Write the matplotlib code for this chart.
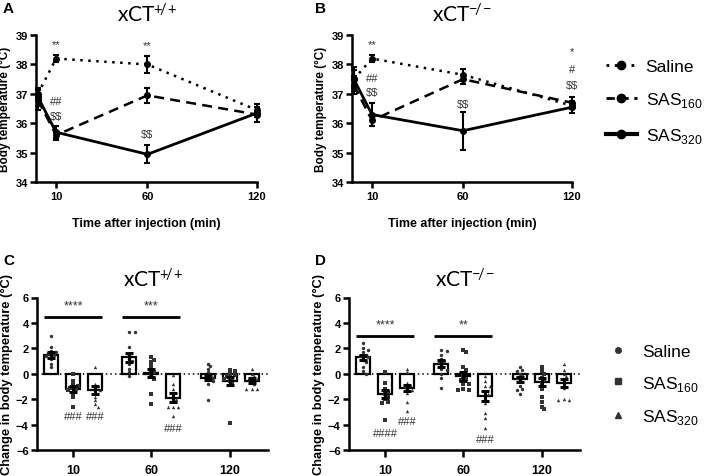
import numpy as np
import matplotlib
matplotlib.use('Agg')
import matplotlib.pyplot as plt
from matplotlib.lines import Line2D

plt.rcParams['font.family'] = ['Liberation Sans', 'DejaVu Sans']
plt.rcParams['mathtext.fontset'] = 'custom'
plt.rcParams['mathtext.rm'] = 'Liberation Sans'

# ---------------- data: time course (panels A, B) ----------------
times = [0, 10, 60, 120]
time_ticks = [10, 60, 120]
temp_ticks = [34, 35, 36, 37, 38, 39]

a_saline = [37.0, 38.2, 38.0, 36.45]
a_saline_sem = [0.2, 0.12, 0.3, 0.1]
a_sas160 = [36.8, 35.6, 36.95, 36.3]
a_sas160_sem = [0.35, 0.15, 0.25, 0.1]
a_sas320 = [36.9, 35.7, 34.95, 36.35]
a_sas320_sem = [0.3, 0.2, 0.3, 0.3]

b_saline = [37.5, 38.2, 37.65, 36.6]
b_saline_sem = [0.3, 0.12, 0.2, 0.1]
b_sas160 = [37.3, 36.1, 37.5, 36.7]
b_sas160_sem = [0.3, 0.2, 0.15, 0.2]
b_sas320 = [37.5, 36.3, 35.75, 36.55]
b_sas320_sem = [0.4, 0.4, 0.65, 0.2]

annot_a = [(10, 38.7, '**'), (60, 38.65, '**'), (10, 36.75, '##'),
           (10, 36.25, r'\$\$'), (60, 35.65, r'\$\$')]
annot_b = [(10, 38.7, '**'), (10, 37.55, '##'), (10, 37.05, r'\$\$'),
           (60, 36.65, r'\$\$'), (120, 38.45, '*'), (120, 37.85, '#'),
           (120, 37.3, r'\$\$')]

# ---------------- data: change in temperature (panels C, D) ----------------
group_labels = ['10', '60', '120']
change_ticks = [-6, -4, -2, 0, 2, 4, 6]
treatments = ['Saline', 'SAS160', 'SAS320']

c_means = [[1.5, -1.2, -1.3], [1.3, 0.05, -1.9], [-0.3, -0.55, -0.55]]
c_sems = [[0.25, 0.25, 0.3], [0.35, 0.3, 0.35], [0.2, 0.3, 0.2]]
c_points = [
    [[3.0, 2.1, 1.8, 1.7, 1.6, 1.5, 1.4, 1.2, 0.8, 0.5],
     [0.0, -0.6, -0.9, -1.0, -1.1, -1.2, -1.3, -1.5, -1.8, -2.6],
     [0.5, -0.8, -1.0, -1.2, -1.3, -1.5, -1.8, -2.1, -2.4, -2.6]],
    [[3.3, 3.3, 2.1, 1.5, 1.2, 1.0, 0.8, 0.4, 0.1, -0.2],
     [1.3, 1.1, 0.9, 0.6, 0.3, 0.1, -0.2, -0.4, -1.6, -2.4],
     [-0.1, -0.8, -1.2, -1.5, -1.8, -2.0, -2.6, -2.6, -2.6, -3.3]],
    [[0.8, 0.6, 0.4, 0.1, -0.2, -0.3, -0.5, -0.6, -0.8, -2.1],
     [0.3, 0.2, 0.0, -0.1, -0.2, -0.3, -0.4, -0.6, -0.8, -3.9],
     [0.4, 0.0, -0.2, -0.3, -0.4, -0.6, -0.8, -1.2, -1.2, -1.2]],
]
c_sig = [(0, 4.5, '****'), (1, 4.5, '***')]
c_hash = [(0, 1, -3.3, '###'), (0, 2, -3.3, '###'), (1, 2, -4.3, '###')]

d_means = [[1.3, -1.6, -1.1], [0.8, -0.2, -1.75], [-0.45, -0.65, -0.75]]
d_sems = [[0.2, 0.3, 0.25], [0.25, 0.35, 0.4], [0.2, 0.3, 0.3]]
d_points = [
    [[2.4, 2.0, 1.9, 1.7, 1.5, 1.4, 1.3, 1.1, 0.9, 0.5, 0.2, 0.0],
     [0.1, -0.7, -1.2, -1.4, -1.6, -1.8, -2.0, -2.2, -2.3, -3.6],
     [0.4, 0.1, -0.7, -0.9, -1.0, -1.2, -1.3, -1.5, -2.2, -2.9]],
    [[1.9, 1.8, 1.5, 1.2, 1.0, 0.9, 0.7, 0.3, 0.0, -0.3, 0.4, -1.1],
     [1.9, 1.7, 0.5, 0.3, -0.2, -0.4, -0.5, -0.8, -0.8, -1.2, -1.3, -1.3],
     [-0.2, -0.6, -1.0, -1.0, -1.4, -1.6, -2.0, -2.3, -3.1, -3.5, -4.3]],
    [[0.5, 0.3, 0.2, 0.0, -0.2, -0.3, -0.5, -1.0, -1.2, -1.3, -1.6],
     [0.5, 0.2, 0.0, -0.3, -0.5, -0.8, -1.2, -1.8, -2.2, -2.6, -2.8],
     [0.8, 0.3, 0.0, -0.2, -0.5, -0.8, -1.1, -2.0, -2.1, -2.1]],
]
d_sig = [(0, 3.0, '****'), (1, 3.0, '**')]
d_hash = [(0, 1, -4.7, '####'), (0, 2, -3.7, '###'), (1, 2, -5.1, '###')]

# ---------------- styling ----------------
W, H = 708, 477
fig = plt.figure(figsize=(W / 100, H / 100), dpi=100)

def fbox(x0, y0, x1, y1):
    return [x0 / W, 1 - y1 / H, (x1 - x0) / W, (y1 - y0) / H]

SPINE = 1.8
TICKFS = 8
title_font = dict(family=['Lato', 'DejaVu Sans'], fontsize=15)

def make_title(sup):
    return r'$\mathregular{xCT^{' + sup + '}}$'

def style_axes(ax):
    for s in ['top', 'right']:
        ax.spines[s].set_visible(False)
    for s in ['left', 'bottom']:
        ax.spines[s].set_linewidth(SPINE)
    ax.tick_params(width=SPINE, length=4, labelsize=TICKFS, pad=2)
    for lab in ax.get_xticklabels() + ax.get_yticklabels():
        lab.set_fontweight('bold')

line_styles = [dict(ls=(0, (1, 2.2)), lw=1.8),
               dict(ls=(0, (4, 2.5)), lw=1.8),
               dict(ls='-', lw=2.0)]

def time_panel(ax, series, sems, annots, title, letter, lx):
    for vals, sem, st in zip(series, sems, line_styles):
        ax.plot(times, vals, color='black', marker='o', ms=4, clip_on=False, **st)
        ax.errorbar(times, vals, yerr=sem, fmt='none', ecolor='black',
                    elinewidth=1.5, capsize=2.5, capthick=1.5, clip_on=False)
    ax.set_xlim(-1, 120)
    ax.set_ylim(34, 39)
    ax.set_xticks(time_ticks)
    ax.set_yticks(temp_ticks)
    style_axes(ax)
    ax.set_xlabel('Time after injection (min)', fontsize=9, fontweight='bold', labelpad=12)
    ax.set_ylabel('Body temperature (°C)', fontsize=8.5, fontweight='bold', labelpad=3)
    for x, y, t in annots:
        ax.text(x, y, t, ha='center', va='center', fontsize=8, color='#333333')
    ax.set_title(title, pad=10, **title_font)
    fig.text(lx / W, 1 - 9 / H, letter, fontsize=11, fontweight='bold', va='center')

axA = fig.add_axes(fbox(36, 36, 257, 183.3))
time_panel(axA, [a_saline, a_sas160, a_sas320], [a_saline_sem, a_sas160_sem, a_sas320_sem],
           annot_a, make_title(r'+\!/\!+'), 'A', 3)
axB = fig.add_axes(fbox(352, 36, 572, 183.3))
time_panel(axB, [b_saline, b_sas160, b_sas320], [b_saline_sem, b_sas160_sem, b_sas320_sem],
           annot_b, make_title(r'-\!/\!-'), 'B', 315)

# top legend
handles = [Line2D([], [], color='black', marker='o', ms=6, ls=(0, (1, 2)), lw=2),
           Line2D([], [], color='black', marker='o', ms=6, ls=(0, (3, 2)), lw=2),
           Line2D([], [], color='black', marker='o', ms=6, ls='-', lw=3)]
labels = ['Saline', r'SAS$_{160}$', r'SAS$_{320}$']
fig.legend(handles, labels, loc='upper left', bbox_to_anchor=(590 / W, 1 - 44 / H),
           frameon=False, fontsize=12.5, handlelength=1.8, handletextpad=0.5,
           labelspacing=0.95)

# ---------------- bar panels ----------------
offsets = [-0.28, 0.0, 0.28]
bar_w = 0.18
markers = ['o', 's', '^']
PX_X, PX_Y = 78.0, 152.0 / 12.0

def swarm(vals, mindist=3.4, step=2.6):
    order = np.argsort(vals)[::-1]
    placed = []
    offs = np.zeros(len(vals))
    for i in order:
        y = vals[i] * PX_Y
        k = 0
        while True:
            cand = 0 if k == 0 else ((k + 1) // 2) * step * (1 if k % 2 else -1)
            ok = all((cand - px) ** 2 + (y - py) ** 2 >= mindist ** 2 for px, py in placed)
            if ok:
                break
            k += 1
        placed.append((cand, y))
        offs[i] = cand / PX_X
    return offs

def bar_panel(ax, means, sems, points, sigs, hashes, title, letter, lx):
    ax.axhline(0, color='black', ls=(0, (1, 2)), lw=1.1, zorder=1)
    for g in range(3):
        for t in range(3):
            x = g + offsets[t]
            ax.bar(x, means[g][t], width=bar_w, color='white', edgecolor='black',
                   linewidth=1.6, zorder=2)
            pts = np.array(points[g][t])
            ax.scatter(x + swarm(pts), pts, marker=markers[t], s=6, color='#333333',
                       linewidths=0, zorder=3)
            ax.errorbar(x, means[g][t], yerr=sems[g][t], fmt='none', ecolor='black',
                        elinewidth=2.2, capsize=3, capthick=2.2, zorder=4)
    for g, y, t in sigs:
        ax.plot([g + offsets[0] - bar_w / 2, g + offsets[2] + bar_w / 2], [y, y],
                color='black', lw=2, solid_capstyle='butt')
        ax.text(g, y + 0.4, t, ha='center', va='bottom', fontsize=9, color='#333333')
    for g, t, y, s in hashes:
        ax.text(g + offsets[t], y, s, ha='center', va='center', fontsize=8, color='#333333')
    ax.set_xlim(-0.46, 2.49)
    ax.set_ylim(-6, 6)
    ax.set_xticks(range(3))
    ax.set_xticklabels(group_labels)
    ax.set_yticks(change_ticks)
    style_axes(ax)
    ax.tick_params(axis='x', length=5, pad=5, labelsize=9)
    ax.set_ylabel('Change in body temperature (°C)', fontsize=9.3, fontweight='bold', labelpad=2)
    ax.set_title(title, pad=8, **title_font)
    fig.text(lx / W, 1 - 261 / H, letter, fontsize=11, fontweight='bold', va='center')

axC = fig.add_axes(fbox(37, 298.5, 268, 451))
bar_panel(axC, c_means, c_sems, c_points, c_sig, c_hash, make_title(r'+\!/\!+'), 'C', 3)
axD = fig.add_axes(fbox(349, 298.5, 580, 451))
bar_panel(axD, d_means, d_sems, d_points, d_sig, d_hash, make_title(r'-\!/\!-'), 'D', 315)

handles2 = [Line2D([], [], color='#333333', marker=m, ms=4, ls='none') for m in markers]
fig.legend(handles2, labels, loc='upper left', bbox_to_anchor=(592 / W, 1 - 329 / H),
           frameon=False, fontsize=12.5, handlelength=1.2, handletextpad=0.8,
           labelspacing=0.85)

fig.savefig('out.png', dpi=100)
